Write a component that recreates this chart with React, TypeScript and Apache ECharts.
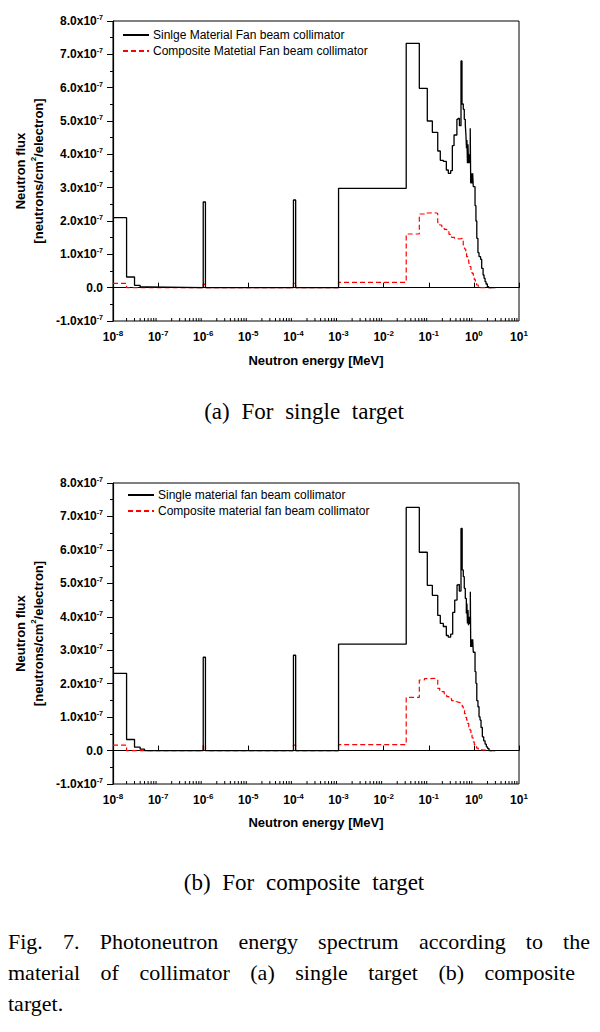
import React, { useEffect, useRef } from 'react';
import * as echarts from 'echarts';

// ---------- DATA (flux in units of 1e-7 neutrons/cm^2/electron, energy in MeV) ----------
const legendA = ['Sinlge Material Fan beam collimator', 'Composite Matetial Fan beam collimator'];
const legendB = ['Single material fan beam collimator', 'Composite material fan beam collimator'];

const xAxisName = 'Neutron energy [MeV]';
const yAxisLine1 = 'Neutron flux';

// (a) single target - single material collimator (histogram: [bin start energy, flux])
const aSingle: [number, number][] = [
  [1e-8, 2.1], [2e-8, 0.32], [3e-8, 0.07], [4e-8, 0.02], [6e-8, 0],
  [1e-6, 2.57], [1.12e-6, 0], [1e-4, 2.63], [1.12e-4, 0], [1e-3, 2.98],
  [0.0316, 7.33], [0.0617, 5.98], [0.0927, 5.0], [0.12, 4.66], [0.158, 4.1],
  [0.18, 3.82], [0.21, 3.79], [0.245, 3.53], [0.271, 3.43], [0.306, 3.51],
  [0.333, 4.26], [0.363, 4.58], [0.42, 5.05], [0.445, 5.08], [0.478, 4.86],
  [0.518, 6.8], [0.545, 5.51], [0.582, 5.35], [0.612, 5.05], [0.645, 4.88],
  [0.665, 4.6], [0.685, 4.18], [0.7, 4.43], [0.72, 3.73], [0.74, 4.3],
  [0.76, 3.73], [0.78, 4.0], [0.8, 3.75], [0.83, 4.78], [0.85, 3.13],
  [0.88, 3.43], [0.91, 3.13], [0.94, 3.43], [0.97, 3.03], [1.06, 2.46],
  [1.11, 2.0], [1.16, 1.48], [1.23, 1.05], [1.3, 0.93], [1.41, 0.85],
  [1.49, 0.58], [1.6, 0.38], [1.68, 0.28], [1.77, 0.18], [1.86, 0.11],
  [1.99, 0.03], [2.13, 0], [3.0, 0],
];

// (a) single target - composite material collimator
const aComposite: [number, number][] = [
  [1e-8, 0.13], [2e-8, 0], [1e-6, 0.1], [1.12e-6, 0], [1e-4, 0.13], [1.12e-4, 0],
  [1e-3, 0.16], [0.0316, 1.61], [0.0617, 2.21], [0.08, 2.24], [0.106, 2.25],
  [0.13, 2.24], [0.15, 2.22], [0.158, 1.95], [0.175, 1.88], [0.194, 1.83],
  [0.22, 1.75], [0.25, 1.68], [0.28, 1.6], [0.32, 1.51], [0.37, 1.48],
  [0.42, 1.46], [0.47, 1.47], [0.52, 1.48], [0.55, 1.4], [0.58, 1.28],
  [0.62, 1.16], [0.66, 1.03], [0.69, 0.93], [0.73, 0.83], [0.77, 0.73],
  [0.82, 0.63], [0.86, 0.53], [0.91, 0.43], [0.97, 0.33], [1.02, 0.24],
  [1.08, 0.15], [1.15, 0.08], [1.25, 0.03], [1.37, 0], [2.5, 0],
];

// (b) composite target - single material collimator
const bSingle: [number, number][] = [
  [1e-8, 2.31], [2e-8, 0.33], [3e-8, 0.1], [4e-8, 0.04], [5e-8, 0],
  [1e-6, 2.79], [1.12e-6, 0], [1e-4, 2.85], [1.12e-4, 0], [1e-3, 3.18],
  [0.0316, 7.27], [0.0617, 5.93], [0.0927, 4.94], [0.12, 4.64], [0.158, 4.04],
  [0.18, 3.8], [0.21, 3.71], [0.245, 3.44], [0.271, 3.39], [0.306, 3.48],
  [0.339, 4.13], [0.376, 4.5], [0.423, 4.95], [0.445, 4.97], [0.475, 4.77],
  [0.518, 6.64], [0.55, 5.4], [0.582, 5.2], [0.612, 4.85], [0.645, 4.55],
  [0.68, 4.1], [0.7, 4.4], [0.72, 3.8], [0.74, 4.2], [0.76, 3.75],
  [0.78, 4.0], [0.8, 3.8], [0.834, 4.75], [0.851, 3.1], [0.88, 3.33],
  [0.91, 3.1], [0.94, 3.33], [0.97, 2.94], [1.06, 2.36], [1.11, 2.01],
  [1.16, 1.49], [1.23, 1.31], [1.3, 1.01], [1.37, 0.91], [1.44, 0.69],
  [1.54, 0.41], [1.65, 0.29], [1.77, 0.19], [1.89, 0.11], [2.02, 0.06],
  [2.16, 0], [3.0, 0],
];

// (b) composite target - composite material collimator
const bComposite: [number, number][] = [
  [1e-8, 0.16], [2e-8, 0], [1e-6, 0.16], [1.12e-6, 0], [1e-4, 0.16], [1.12e-4, 0],
  [1e-3, 0.18], [0.0316, 1.59], [0.0617, 2.11], [0.08, 2.15], [0.106, 2.16],
  [0.13, 2.15], [0.15, 2.13], [0.158, 1.86], [0.175, 1.8], [0.194, 1.76],
  [0.22, 1.68], [0.25, 1.61], [0.28, 1.55], [0.32, 1.49], [0.37, 1.46],
  [0.42, 1.44], [0.47, 1.42], [0.52, 1.41], [0.55, 1.32], [0.58, 1.21],
  [0.62, 1.1], [0.66, 0.99], [0.69, 0.91], [0.73, 0.81], [0.77, 0.71],
  [0.82, 0.61], [0.86, 0.49], [0.91, 0.38], [0.97, 0.26], [1.02, 0.18],
  [1.08, 0.12], [1.15, 0.07], [1.25, 0.02], [1.37, 0], [2.5, 0],
];

// axis ranges and ticks
const xMin = 1e-8;
const xMax = 10;
const yMin = -1;
const yMax = 8;
const yInterval = 1;
const minorMultipliers = [2, 3, 4, 5, 6, 7, 8, 9];
const minorDecades = [-8, -7, -6, -5, -4, -3, -2, -1, 0];

// ---------- OPTION ----------
const FONT = "'Liberation Sans', Arial, sans-serif";

const richX = {
  b: { fontSize: 12, fontWeight: 'bold', fontFamily: FONT, color: '#000', lineHeight: 15 },
  s: { fontSize: 8, fontWeight: 'bold', fontFamily: FONT, color: '#000', lineHeight: 10, verticalAlign: 'top' },
};
const richY = {
  b: { fontSize: 12, fontWeight: 'bold', fontFamily: FONT, color: '#000', lineHeight: 14 },
  s: { fontSize: 7, fontWeight: 'bold', fontFamily: FONT, color: '#000', lineHeight: 9, verticalAlign: 'top' },
};
const richName = {
  b: { fontSize: 13, fontWeight: 'bold', fontFamily: FONT, color: '#000', lineHeight: 18 },
  s: { fontSize: 8, fontWeight: 'bold', fontFamily: FONT, color: '#000', lineHeight: 12, verticalAlign: 'top' },
};

function xLabel(v: number) {
  const e = Math.round(Math.log10(v));
  return `{b|10}{s|${e}}`;
}
function yLabel(v: number) {
  if (Math.abs(v) < 1e-9) return '{b|0.0}';
  return `{b|${v.toFixed(1)}x10}{s|-7}`;
}

function makeX(gridIndex: number, nameGap: number) {
  return {
    type: 'log',
    logBase: 10,
    gridIndex,
    min: xMin,
    max: xMax,
    splitNumber: 9,
    name: xAxisName,
    nameLocation: 'middle',
    nameGap,
    nameTextStyle: { fontSize: 13, fontWeight: 'bold', fontFamily: FONT, color: '#000' },
    axisLine: { show: true, lineStyle: { color: '#000', width: 1.2 } },
    axisTick: { show: true, inside: true, length: 5, lineStyle: { color: '#000', width: 1 } },
    axisLabel: { formatter: xLabel, rich: richX, margin: 8, showMinLabel: true, showMaxLabel: true, hideOverlap: false },
    splitLine: { show: false },
  };
}

function makeY(gridIndex: number, nameGap: number) {
  return {
    type: 'value',
    gridIndex,
    min: yMin,
    max: yMax,
    interval: yInterval,
    name: `{b|${yAxisLine1}}\n{b|[neutrons/cm}{s|2}{b|/electron]}`,
    nameLocation: 'middle',
    nameRotate: 90,
    nameGap,
    nameTextStyle: { rich: richName, fontSize: 13, fontWeight: 'bold', fontFamily: FONT, color: '#000', align: 'center' },
    axisLine: { show: true, lineStyle: { color: '#000', width: 1.2 } },
    axisTick: { show: true, inside: false, length: 6, lineStyle: { color: '#000', width: 1 } },
    minorTick: { show: true, splitNumber: 2, length: 3, lineStyle: { color: '#000', width: 1 } },
    axisLabel: { formatter: yLabel, rich: richY, margin: 10 },
    splitLine: { show: false },
  };
}

const minorTickData: [number, number][] = [];
minorDecades.forEach((d) => minorMultipliers.forEach((m) => minorTickData.push([m * Math.pow(10, d), yMin])));

function minorTickSeries(idx: number) {
  return {
    type: 'custom',
    xAxisIndex: idx,
    yAxisIndex: idx,
    silent: true,
    clip: false,
    z: 5,
    data: minorTickData,
    renderItem: (_p: any, api: any) => {
      const pt = api.coord([api.value(0), api.value(1)]);
      return {
        type: 'line',
        shape: { x1: pt[0], y1: pt[1], x2: pt[0], y2: pt[1] - 3 },
        style: { stroke: '#000', lineWidth: 1 },
      };
    },
  };
}

function lineSeries(name: string, idx: number, data: [number, number][], dashed: boolean) {
  const color = dashed ? '#ff0000' : '#000000';
  return {
    type: 'line',
    name,
    xAxisIndex: idx,
    yAxisIndex: idx,
    data,
    step: 'end',
    symbol: 'none',
    showSymbol: false,
    lineStyle: { color, width: dashed ? 1.2 : 1.3, type: dashed ? [5, 3] : 'solid' },
    itemStyle: { color },
    z: dashed ? 3 : 4,
  };
}

function legend(names: string[], left: number, top: number) {
  return {
    data: names,
    orient: 'vertical',
    left,
    top,
    padding: 0,
    itemWidth: 26,
    itemHeight: 10,
    itemGap: 4,
    selectedMode: false,
    itemStyle: { opacity: 0 },
    textStyle: { fontSize: 12, fontFamily: FONT, color: '#000', padding: [0, 0, 0, -1] },
  };
}

const option: any = {
  animation: false,
  backgroundColor: '#fff',
  grid: [
    { left: 113, top: 21, width: 406, height: 300, show: true, borderColor: '#000', borderWidth: 1, backgroundColor: 'transparent' },
    { left: 113, top: 483, width: 406, height: 301, show: true, borderColor: '#000', borderWidth: 1, backgroundColor: 'transparent' },
  ],
  xAxis: [makeX(0, 33), makeX(1, 32)],
  yAxis: [makeY(0, 64), makeY(1, 64)],
  legend: [legend(legendA, 122, 29), legend(legendB, 127, 489)],
  series: [
    lineSeries(legendA[1], 0, aComposite, true),
    lineSeries(legendA[0], 0, aSingle, false),
    lineSeries(legendB[1], 1, bComposite, true),
    lineSeries(legendB[0], 1, bSingle, false),
    minorTickSeries(0),
    minorTickSeries(1),
  ],
};

const serif = "'Liberation Serif', 'Times New Roman', serif";

export default function App() {
  const ref = useRef<HTMLDivElement>(null);
  useEffect(() => {
    const chart = echarts.init(ref.current as HTMLDivElement, null, { renderer: 'svg' });
    chart.setOption(option);
    return () => chart.dispose();
  }, []);
  const capStyle: React.CSSProperties = {
    position: 'absolute', left: 4, width: 600, textAlign: 'center',
    fontFamily: serif, fontSize: 23, lineHeight: '28px', color: '#000', wordSpacing: '6px', whiteSpace: 'pre',
  };
  const figLine: React.CSSProperties = {
    position: 'absolute', left: 8, fontFamily: serif, fontSize: 22, lineHeight: '31px', color: '#000',
    textAlign: 'justify', textAlignLast: 'justify' as any, whiteSpace: 'normal',
  };
  return (
    <div style={{ position: 'absolute', left: 0, top: 0, width: 600, height: 1032, background: '#fff', overflow: 'hidden' }}>
      <div ref={ref} style={{ position: 'absolute', left: 0, top: 0, width: 600, height: 860 }} />
      <div style={{ ...capStyle, top: 398 }}>(a) For single target</div>
      <div style={{ ...capStyle, top: 869 }}>(b) For composite target</div>
      <div style={{ ...figLine, top: 926, width: 582 }}>Fig. 7. Photoneutron energy spectrum according to the</div>
      <div style={{ ...figLine, top: 957, width: 567 }}>material of collimator (a) single target (b) composite</div>
      <div style={{ ...figLine, top: 988, textAlignLast: 'left' as any }}>target.</div>
    </div>
  );
}
